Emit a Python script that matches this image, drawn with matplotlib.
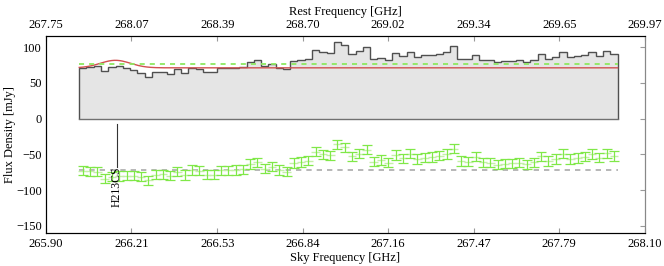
import numpy as np
import matplotlib
matplotlib.use("Agg")
from matplotlib import pyplot as plt

plt.rcParams['font.family'] = ['Liberation Serif', 'DejaVu Serif']
plt.rcParams['font.size'] = 9

# spectrum: channel range (sky freq, GHz) and flux per channel (mJy)
chan_lo = 266.022
chan_hi = 268.000
flux = [71, 72, 74, 67, 72, 73, 71, 68, 64, 57.5,
        65, 65, 63, 69, 64, 71, 70, 64.5, 64.5, 70.5,
        70.5, 71, 72, 79.5, 82, 73, 76, 71, 69, 81,
        82.5, 84, 96.5, 93, 91.5, 107, 103, 90, 94, 99.5,
        83, 85, 81.5, 92, 87.5, 93.8, 86.5, 88.5, 89.5, 91,
        93.6, 101, 83.5, 83, 89.6, 82, 81.5, 78.5, 80, 80.5,
        81.5, 79, 82, 90, 83.5, 86.3, 93.8, 86.3, 87.7, 89.6,
        93.3, 88.2, 94.5, 90.5]
flux_err = 6.5

# gaussian line fit + continuum
cont = 71.0
amp = 10.5
center = 266.155
sigma = 0.055
mean_level = 77.0
resid_offset = -72.0

line_name = "H213CS"
line_pos = 266.16

sky_ticks = [265.90, 266.214, 266.529, 266.843, 267.157, 267.471, 267.786, 268.10]
sky_labels = ['265.90', '266.21', '266.53', '266.84', '267.16', '267.47', '267.79', '268.10']
rest_labels = ['267.75', '268.07', '268.39', '268.70', '269.02', '269.34', '269.65', '269.97']
y_ticks = [-150, -100, -50, 0, 50, 100]


def model(x):
    return cont + amp * np.exp(-0.5 * ((x - center) / sigma) ** 2)


flux = np.array(flux)
edges = np.linspace(chan_lo, chan_hi, len(flux) + 1)
mids = 0.5 * (edges[:-1] + edges[1:])
xfine = np.linspace(chan_lo, chan_hi, 400)
resid = flux - model(mids) + resid_offset

fig = plt.figure(figsize=(6.64, 2.66), dpi=100)
ax = fig.add_axes([0.0693, 0.124, 0.9017, 0.742])

ax.stairs(flux, edges, baseline=0, fill=True, color='#e5e5e5', lw=0)
ax.stairs(flux, edges, baseline=0, fill=False, color='#505050', lw=1.0)
ax.plot([chan_lo, chan_hi], [0, 0], color='#707070', lw=1.0)
ax.plot(xfine, model(xfine), color='#d05050', lw=1.0)
ax.plot([chan_lo, chan_hi], [mean_level, mean_level], color='#8ee860',
        lw=1.3, ls=(0, (2.8, 2.8)))

# residuals
ax.plot([chan_lo, chan_hi], [resid_offset, resid_offset], color='#aaaaaa',
        lw=1.2, ls=(0, (3.2, 3.0)))
ax.errorbar(mids, resid, xerr=0.6 * (edges[1] - edges[0]), fmt='none',
            ecolor='#c4f0a8', elinewidth=1.0)
ax.errorbar(mids, resid, yerr=flux_err, fmt='none', ecolor='#80e848',
            elinewidth=0.9, capsize=3.5, capthick=0.9)

# line marker
ax.plot([line_pos, line_pos], [-7, -67], color='#333333', lw=0.8)
ax.text(line_pos, -67, line_name, rotation=90, ha='center', va='top', fontsize=8.5)

ax.set_xlim(sky_ticks[0], sky_ticks[-1])
ax.set_ylim(-160, 116)
ax.set_xticks(sky_ticks)
ax.set_xticklabels(sky_labels)
ax.set_yticks(y_ticks)
ax.tick_params(axis='x', direction='in', length=3.6, color='#999999', pad=3.5)
ax.tick_params(axis='y', direction='in', length=3.6, color='#999999', pad=3,
               left=False, right=True, labelleft=True)
ax.set_xlabel('Sky Frequency [GHz]', labelpad=1.5)
ax.set_ylabel('Flux Density [mJy]', labelpad=0)
ax.spines['right'].set_color('#888888')
for s in ['left', 'top', 'bottom']:
    ax.spines[s].set_color('#222222')

top = ax.twiny()
top.set_xlim(ax.get_xlim())
top.set_xticks(sky_ticks)
top.set_xticklabels(rest_labels)
top.tick_params(axis='x', direction='in', length=3.6, color='#999999', pad=3)
top.set_xlabel('Rest Frequency [GHz]', labelpad=3)
top.spines['right'].set_color('#888888')

plt.savefig("out.png", dpi=100)
